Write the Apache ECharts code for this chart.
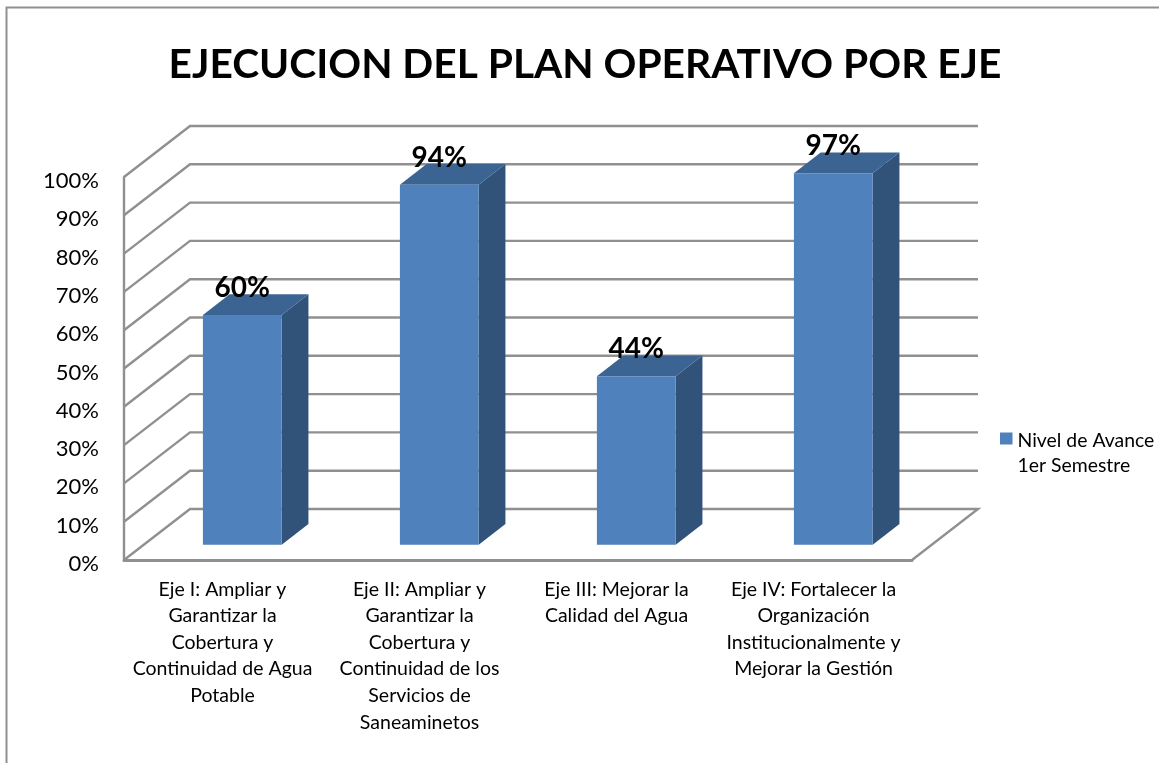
<!DOCTYPE html>
<html>
<head>
<meta charset="utf-8">
<style>html,body{margin:0;padding:0;background:#fff}#c{width:1159px;height:763px}</style>
<script src="https://cdn.jsdelivr.net/npm/echarts@6/dist/echarts.min.js"></script>
</head>
<body>
<div id="c"></div>
<script>
const chartTitle = 'EJECUCION DEL PLAN OPERATIVO POR EJE';
const categories = [
  'Eje I: Ampliar y\nGarantizar la\nCobertura y\nContinuidad de Agua\nPotable',
  'Eje II: Ampliar y\nGarantizar la\nCobertura y\nContinuidad de los\nServicios de\nSaneaminetos',
  'Eje III: Mejorar la\nCalidad del Agua',
  'Eje IV: Fortalecer la\nOrganización\nInstitucionalmente y\nMejorar la Gestión'
];
const seriesName = 'Nivel de Avance\n1er Semestre';
const values = [60, 94, 44, 97];
const gridTicks = [0, 10, 20, 30, 40, 50, 60, 70, 80, 90, 100];

const FONT = 'Lato';
const GRAY = '#909090';
const DX = 66, DY = 51;
const BAR_START = 0.3, BAR_DEPTH = 0.405, BAR_WIDTH = 0.4;

const chart = echarts.init(document.getElementById('c'), null, {renderer: 'canvas'});

function renderWall(params, api) {
  const v = api.value(0);
  const cs = params.coordSys;
  const y = api.coord([0, v])[1];
  const x0 = cs.x, x1 = cs.x + cs.width;
  const pts = [[x0, y], [x0 + DX, y - DY], [x1 + DX, y - DY]];
  if (v === 0) pts.push([x1, y]);
  return {
    type: 'polyline', silent: true,
    shape: {points: pts},
    style: {stroke: GRAY, lineWidth: 2.4, fill: null}
  };
}

function renderBar(params, api) {
  const c = api.value(0), v = api.value(1);
  const top = api.coord([c, v]), base = api.coord([c, 0]);
  const w = api.size([1, 0])[0] * BAR_WIDTH;
  const ox = DX * BAR_START, oy = DY * BAR_START;
  const dx = DX * BAR_DEPTH, dy = DY * BAR_DEPTH;
  const l = top[0] - w / 2 + ox, r = top[0] + w / 2 + ox;
  const t = top[1] - oy, b = base[1] - oy;
  return {
    type: 'group',
    children: [
      {type: 'polygon', shape: {points: [[r, t], [r + dx, t - dy], [r + dx, b - dy], [r, b]]},
       style: {fill: '#315379'}},
      {type: 'polygon', shape: {points: [[l, t], [l + dx, t - dy], [r + dx, t - dy], [r, t]]},
       style: {fill: '#3c6493'}},
      {type: 'rect', shape: {x: l, y: t, width: w, height: b - t},
       style: {fill: '#4f81bd'}},
      {type: 'text', x: (l + r) / 2, y: t - 27,
       style: {text: v + '%', font: 'bold 28px ' + FONT, fill: '#000', align: 'center', verticalAlign: 'middle'}}
    ]
  };
}

chart.setOption({
  animation: false,
  backgroundColor: '#fff',
  textStyle: {fontFamily: FONT},
  title: {
    text: chartTitle, left: 580, top: 39, textAlign: 'center',
    textStyle: {fontFamily: FONT, fontWeight: 'bold', fontSize: 40.7, color: '#000'}
  },
  legend: {
    left: 1000, top: 413, orient: 'vertical', padding: 0,
    itemWidth: 12.5, itemHeight: 12, itemGap: 0, selectedMode: false,
    data: [{name: seriesName, icon: 'rect', itemStyle: {color: '#4f81bd'}}],
    formatter: n => '{s|}\n' + n.split('\n').map(p => '{t|' + p + '}').join('\n'),
    textStyle: {
      fontFamily: FONT, fontSize: 19.4, color: '#000',
      rich: {
        s: {lineHeight: 29, fontSize: 1},
        t: {lineHeight: 25, fontSize: 19.4, fontFamily: FONT, color: '#000', align: 'left'}
      }
    }
  },
  grid: {left: 124, right: 247, top: 177, bottom: 203, containLabel: false},
  xAxis: {
    type: 'category', data: categories,
    axisLine: {show: true, lineStyle: {color: GRAY, width: 3}},
    axisTick: {show: false},
    axisLabel: {interval: 0, margin: 16, fontFamily: FONT, fontSize: 19.5, color: '#000', lineHeight: 26.6, verticalAlign: 'top'}
  },
  yAxis: {
    type: 'value', min: 0, max: 100, interval: 10,
    splitLine: {show: false},
    axisLine: {show: true, lineStyle: {color: GRAY, width: 2.4}},
    axisTick: {show: false},
    axisLabel: {formatter: '{value}%', margin: 25, fontFamily: FONT, fontSize: 22, color: '#000', verticalAlign: 'top', lineHeight: 8}
  },
  series: [
    {type: 'custom', coordinateSystem: 'cartesian2d', renderItem: renderWall, silent: true,
     data: gridTicks.map(t => [t]), encode: {y: 0}, z: 1},
    {type: 'custom', name: seriesName, coordinateSystem: 'cartesian2d', renderItem: renderBar,
     data: values.map((v, i) => [i, v]), encode: {x: 0, y: 1}, z: 3}
  ],
  graphic: [{
    type: 'rect', silent: true, z: -1,
    shape: {x: 6.5, y: 7.5, width: 1300, height: 900},
    style: {fill: 'transparent', stroke: GRAY, lineWidth: 2}
  }]
});
</script>
</body>
</html>
